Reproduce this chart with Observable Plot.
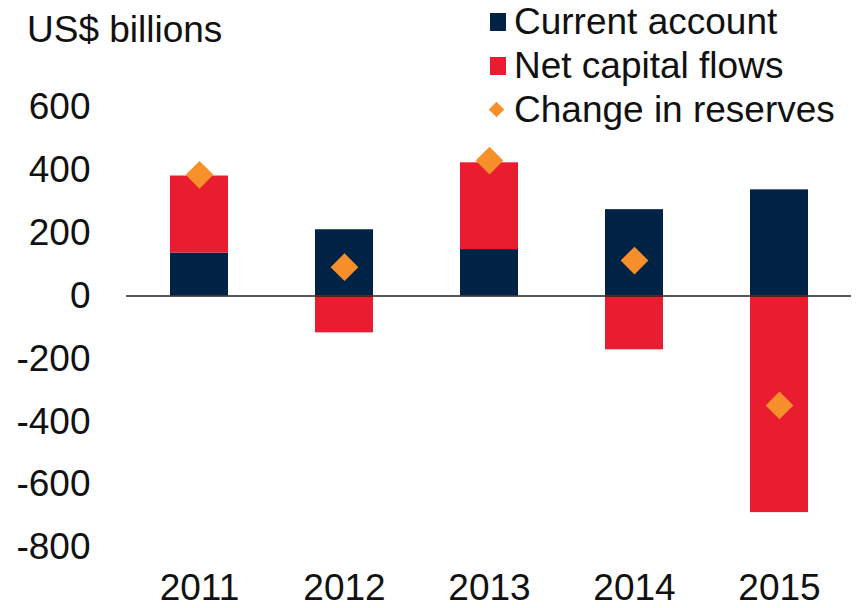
<!DOCTYPE html>
<html>
<head>
<meta charset="utf-8">
<script src="https://cdn.jsdelivr.net/npm/d3@7"></script>
<script src="https://cdn.jsdelivr.net/npm/@observablehq/plot@0.6"></script>
<style>
  html, body { margin: 0; padding: 0; background: #fff; }
  #wrap { position: relative; width: 857px; height: 608px; font-family: "Liberation Sans", Arial, sans-serif; color: #111; }
  #wrap svg { position: absolute; left: 0; top: 0; }
  .lbl { position: absolute; font-size: 37px; line-height: 37px; white-space: nowrap; }
  .mk { position: absolute; }
</style>
</head>
<body>
<div id="wrap"></div>
<script>
const years = ["2011", "2012", "2013", "2014", "2015"];
const currentAccount = [137, 211, 148, 275, 338];
const netCapitalFlows = [245, -117, 276, -171, -689];
const changeInReserves = [386, 92, 431, 113, -348];
const yTicks = [600, 400, 200, 0, -200, -400, -600, -800];
const seriesNames = ["Current account", "Net capital flows", "Change in reserves"];
const seriesColors = ["#002244", "#E91D2F", "#F7902B"];

const bars = [];
years.forEach((y, i) => {
  bars.push({year: y, series: seriesNames[0], value: currentAccount[i]});
  bars.push({year: y, series: seriesNames[1], value: netCapitalFlows[i]});
});
const dots = years.map((y, i) => ({year: y, value: changeInReserves[i]}));

const chart = Plot.plot({
  width: 857,
  height: 608,
  marginTop: 107,
  marginBottom: 61,
  marginLeft: 126,
  marginRight: 6,
  style: {fontFamily: "Liberation Sans, Arial, sans-serif", fontSize: "36px", color: "#111", background: "transparent"},
  x: {domain: years, paddingInner: 0.6, paddingOuter: 0.3, label: null},
  y: {domain: [-800, 600], label: null},
  color: {domain: seriesNames.slice(0, 2), range: seriesColors.slice(0, 2)},
  marks: [
    Plot.barY(bars, Plot.stackY({x: "year", y: "value", fill: "series", order: null})),
    Plot.ruleY([0], {stroke: "#222", strokeWidth: 1.5}),
    Plot.dot(dots, {x: "year", y: "value", symbol: "diamond2", r: 12.5, fill: seriesColors[2], stroke: "none"}),
    Plot.axisY(yTicks, {tickSize: 0, tickPadding: 36, fontSize: 37, fill: "#111", tickFormat: d => String(d)}),
    Plot.axisX({tickSize: 0, tickPadding: 26, fontSize: 37, fill: "#111"})
  ]
});
const wrap = document.getElementById("wrap");
wrap.appendChild(chart);

function addText(txt, left, top) {
  const d = document.createElement("div");
  d.className = "lbl"; d.textContent = txt;
  d.style.left = left + "px"; d.style.top = top + "px";
  wrap.appendChild(d);
}
addText("US$ billions", 27, 11);
const rowsTop = [3, 47, 91];
seriesNames.forEach((name, i) => {
  addText(name, 514, rowsTop[i]);
  const m = document.createElement("div");
  m.className = "mk";
  if (i < 2) {
    m.style.left = "490px"; m.style.top = (rowsTop[i] + 10) + "px";
    m.style.width = "16px"; m.style.height = "18px";
    m.style.background = seriesColors[i];
  } else {
    m.style.left = "491px"; m.style.top = (rowsTop[i] + 13) + "px";
    m.style.width = "11px"; m.style.height = "11px";
    m.style.background = seriesColors[i];
    m.style.transform = "rotate(45deg)";
  }
  wrap.appendChild(m);
});
</script>
</body>
</html>
